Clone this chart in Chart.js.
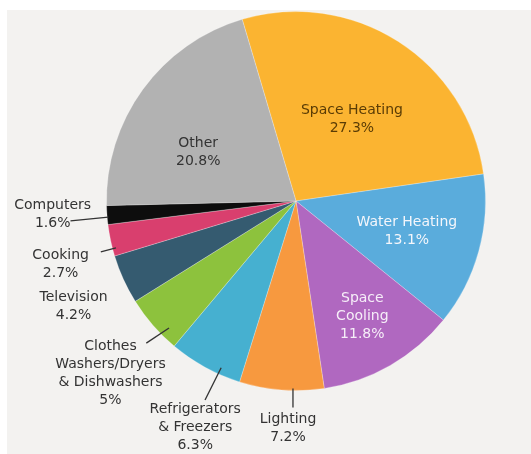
<!DOCTYPE html>
<html>
<head>
<meta charset="utf-8">
<script src="https://cdn.jsdelivr.net/npm/chart.js@4.4.1/dist/chart.umd.min.js"></script>
<style>
html,body{margin:0;padding:0;background:#ffffff;}
canvas{display:block;}
</style>
</head>
<body>
<canvas id="c" width="531" height="454"></canvas>
<script>
// ---- data ----
const categories = ["Space Heating","Water Heating","Space Cooling","Lighting","Refrigerators & Freezers","Clothes Washers/Dryers & Dishwashers","Television","Cooking","Computers","Other"];
const shares = [27.3, 13.1, 11.8, 7.2, 6.3, 5, 4.2, 2.7, 1.6, 20.8];
const labelLines = [
  ["Space Heating"],
  ["Water Heating"],
  ["Space","Cooling"],
  ["Lighting"],
  ["Refrigerators","& Freezers"],
  ["Clothes","Washers/Dryers","& Dishwashers"],
  ["Television"],
  ["Cooking"],
  ["Computers"],
  ["Other"]
];
const sliceColors = ["#fbb431","#5aacdc","#b068c0","#f7993f","#46b0d0","#8dc23d","#355b70","#d93f6e","#0d0d0d","#b2b2b2"];

// ---- label layout (offsets from pie centre, in units of radius) ----
const labelLayout = [
  {x: 0.295, y:-0.43,  color:"#5a3c05"},
  {x: 0.585, y: 0.158, color:"#f4f6fb"},
  {x: 0.35,  y: 0.61,  color:"#f6eef8"},
  {x:-0.042, y: 1.2,   color:"#333333", line:[[-0.016,0.99],[-0.016,1.09]]},
  {x:-0.532, y: 1.195, color:"#333333", line:[[-0.395,0.88],[-0.48,1.05]]},
  {x:-0.979, y: 0.91,  color:"#333333", line:[[-0.67,0.67],[-0.79,0.75]]},
  {x:-1.174, y: 0.558, color:"#333333"},
  {x:-1.242, y: 0.332, color:"#333333", line:[[-0.95,0.247],[-1.03,0.268]]},
  {x:-1.284, y: 0.068, color:"#333333", line:[[-0.99,0.085],[-1.19,0.105]]},
  {x:-0.516, y:-0.258, color:"#333333"}
];

const bgPlugin = {
  id:'bg',
  beforeDraw(chart){
    const ctx = chart.ctx;
    ctx.save();
    ctx.fillStyle = '#ffffff';
    ctx.fillRect(0,0,chart.width,chart.height);
    ctx.fillStyle = '#f3f2f0';
    ctx.fillRect(7,10,chart.width-7,chart.height-10);
    ctx.restore();
  }
};

const labelPlugin = {
  id:'sliceLabels',
  afterDatasetsDraw(chart){
    const ctx = chart.ctx;
    const meta = chart.getDatasetMeta(0);
    const arc0 = meta.data[0];
    const cx = arc0.x, cy = arc0.y, r = arc0.outerRadius;
    ctx.save();
    ctx.textAlign = 'center';
    ctx.textBaseline = 'middle';
    ctx.font = '14px "DejaVu Sans", sans-serif';
    const lh = 18;
    meta.data.forEach((arc, i) => {
      const L = labelLayout[i];
      const lines = labelLines[i].concat([shares[i] + '%']);
      const ax = cx + L.x * r, ay = cy + L.y * r;
      const top = ay - (lines.length - 1) * lh / 2;
      ctx.fillStyle = L.color;
      lines.forEach((t, k) => ctx.fillText(t, ax, top + k * lh));
      if (L.line){
        ctx.strokeStyle = '#333333';
        ctx.lineWidth = 1.3;
        ctx.beginPath();
        ctx.moveTo(cx + L.line[0][0]*r, cy + L.line[0][1]*r);
        ctx.lineTo(cx + L.line[1][0]*r, cy + L.line[1][1]*r);
        ctx.stroke();
      }
    });
    ctx.restore();
  }
};

new Chart(document.getElementById('c'), {
  type:'pie',
  data:{
    labels: categories,
    datasets:[{
      data: shares,
      backgroundColor: sliceColors,
      borderWidth: 1,
      borderColor: 'rgba(255,255,255,0.25)'
    }]
  },
  options:{
    responsive:false,
    devicePixelRatio:1,
    animation:false,
    rotation:-16.5,
    layout:{padding:{left:106,right:45,top:11,bottom:63}},
    plugins:{legend:{display:false},tooltip:{enabled:false}}
  },
  plugins:[bgPlugin,labelPlugin]
});
</script>
</body>
</html>
